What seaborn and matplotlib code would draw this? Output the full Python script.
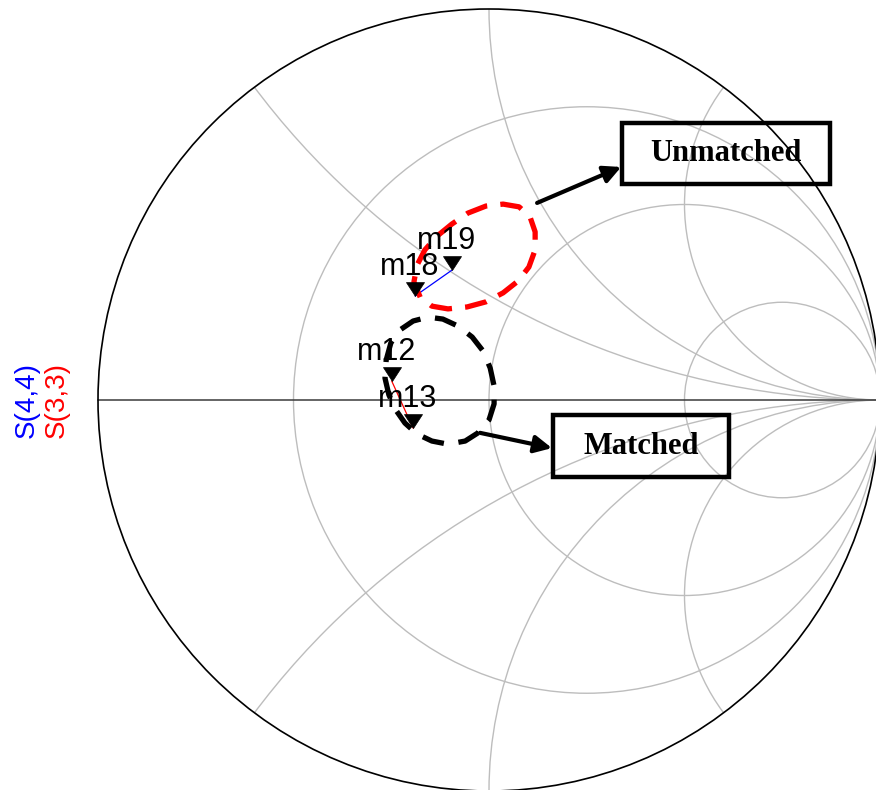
import numpy as np
import matplotlib
matplotlib.use("Agg")
import matplotlib.pyplot as plt
import matplotlib.patches as patches
from matplotlib.path import Path
import seaborn as sns

# Smith chart grid values (normalised resistance / reactance)
r_grid = [1 / 3, 1, 3]
x_grid = [0.5, 1, 2]

# traces (reflection coefficient, real / imag)
s44_re = [-0.189, -0.095]
s44_im = [0.266, 0.332]
s33_re = [-0.249, -0.194]
s33_im = [0.049, -0.072]

# markers
mk_names = ["m18", "m19", "m12", "m13"]
mk_re = [-0.189, -0.095, -0.249, -0.194]
mk_im = [0.266, 0.332, 0.049, -0.072]

# hand drawn loops around the points
unmatched_re = [-0.176, -0.192, -0.184, -0.164, -0.133, -0.095, -0.054, -0.008, 0.036, 0.077, 0.105,
                0.118, 0.118, 0.102, 0.074, 0.036, -0.008, -0.056, -0.105, -0.146, -0.176]
unmatched_im = [0.263, 0.302, 0.345, 0.384, 0.419, 0.450, 0.478, 0.496, 0.501, 0.494, 0.468,
                0.430, 0.384, 0.340, 0.304, 0.274, 0.251, 0.238, 0.233, 0.240, 0.263]
matched_re = [-0.028, -0.061, -0.105, -0.146, -0.184, -0.215, -0.238, -0.256, -0.266, -0.263, -0.251,
              -0.228, -0.194, -0.156, -0.118, -0.079, -0.043, -0.015, 0.003, 0.013, 0.013, 0.000, -0.028]
matched_im = [-0.084, -0.105, -0.113, -0.105, -0.087, -0.059, -0.026, 0.013, 0.056, 0.102, 0.146,
              0.179, 0.202, 0.212, 0.207, 0.189, 0.161, 0.125, 0.082, 0.036, -0.010, -0.051, -0.084]

sns.set_theme(style="white")
plt.rcParams['font.family'] = ['Liberation Sans', 'DejaVu Sans']
plt.rcParams['text.color'] = 'black'

fig = plt.figure(figsize=(8.76, 7.90), dpi=100)
ax = fig.add_axes([0, 0, 1, 1])
ax.set_xlim(-489 / 391, 387 / 391)
ax.set_ylim(-390 / 391, 400 / 391)
ax.set_axis_off()

grid_col = "#bdbdbd"
clip = patches.Circle((0, 0), 1, transform=ax.transData)

# resistance circles
for r in r_grid:
    c = patches.Circle((r / (1 + r), 0), 1 / (1 + r), fill=False, ec=grid_col, lw=1.0, zorder=1)
    ax.add_patch(c)

# reactance arcs
for x in x_grid:
    for sgn in (1, -1):
        c = patches.Circle((1, sgn / x), 1 / x, fill=False, ec=grid_col, lw=1.0, zorder=1)
        ax.add_patch(c)
        c.set_clip_path(clip)

ax.plot([-1, 1], [0, 0], color="#3a3a3a", lw=1.1, zorder=2)
ax.add_patch(patches.Circle((0, 0), 1, fill=False, ec="black", lw=1.2, zorder=3))

# data traces
sns.lineplot(x=s44_re, y=s44_im, sort=False, estimator=None, color="blue", lw=0.9, ax=ax, zorder=4)
sns.lineplot(x=s33_re, y=s33_im, sort=False, estimator=None, color="red", lw=0.9, ax=ax, zorder=4)

# dashed loops
sns.lineplot(x=unmatched_re, y=unmatched_im, sort=False, estimator=None, color="red", lw=3.8,
             linestyle=(0, (4.2, 2.5)), dash_capstyle="butt", ax=ax, zorder=5)
sns.lineplot(x=matched_re, y=matched_im, sort=False, estimator=None, color="black", lw=3.8,
             linestyle=(0, (4.2, 2.8)), dash_capstyle="butt", ax=ax, zorder=5)

# markers: triangle tip on the point
tri = Path([(0, 0), (-0.65, 1), (0.65, 1), (0, 0)],
           [Path.MOVETO, Path.LINETO, Path.LINETO, Path.CLOSEPOLY])
sns.scatterplot(x=mk_re, y=mk_im, marker=tri, s=400, color="black", edgecolor="black",
                linewidth=0.5, ax=ax, zorder=6, legend=False)
for name, xr, yi in zip(mk_names, mk_re, mk_im):
    ax.annotate(name, (xr, yi), xytext=(-25, 15), textcoords="offset points",
                ha="left", va="baseline", fontsize=22, color="black", zorder=7)

# annotation boxes and arrows
serif = ['Liberation Serif', 'DejaVu Serif']
ax.add_patch(patches.Rectangle((0.340, 0.552), 0.532, 0.156, fill=False, ec="black", lw=3.2, zorder=6))
ax.text(0.606, 0.630, "Unmatched", family=serif, weight="bold", fontsize=22, color="black",
        ha="center", va="center", zorder=7)
ax.add_patch(patches.Rectangle((0.164, -0.197), 0.450, 0.159, fill=False, ec="black", lw=3.2, zorder=6))
ax.text(0.389, -0.119, "Matched", family=serif, weight="bold", fontsize=22, color="black",
        ha="center", va="center", zorder=7)

arrow = dict(arrowstyle="-|>", color="black", lw=3.0, mutation_scale=26, shrinkA=0, shrinkB=0)
ax.annotate("", xy=(0.338, 0.596), xytext=(0.123, 0.504), arrowprops=arrow, zorder=6)
ax.annotate("", xy=(0.161, -0.123), xytext=(-0.023, -0.084), arrowprops=arrow, zorder=6)

# axis label (two coloured parts)
fig.text(27 / 876, 1 - 400 / 790, "S(4,4)", rotation=90, color="blue", fontsize=20,
         ha="center", va="center")
fig.text(57 / 876, 1 - 400 / 790, "S(3,3)", rotation=90, color="red", fontsize=20,
         ha="center", va="center")

fig.savefig("out.png", dpi=100)
